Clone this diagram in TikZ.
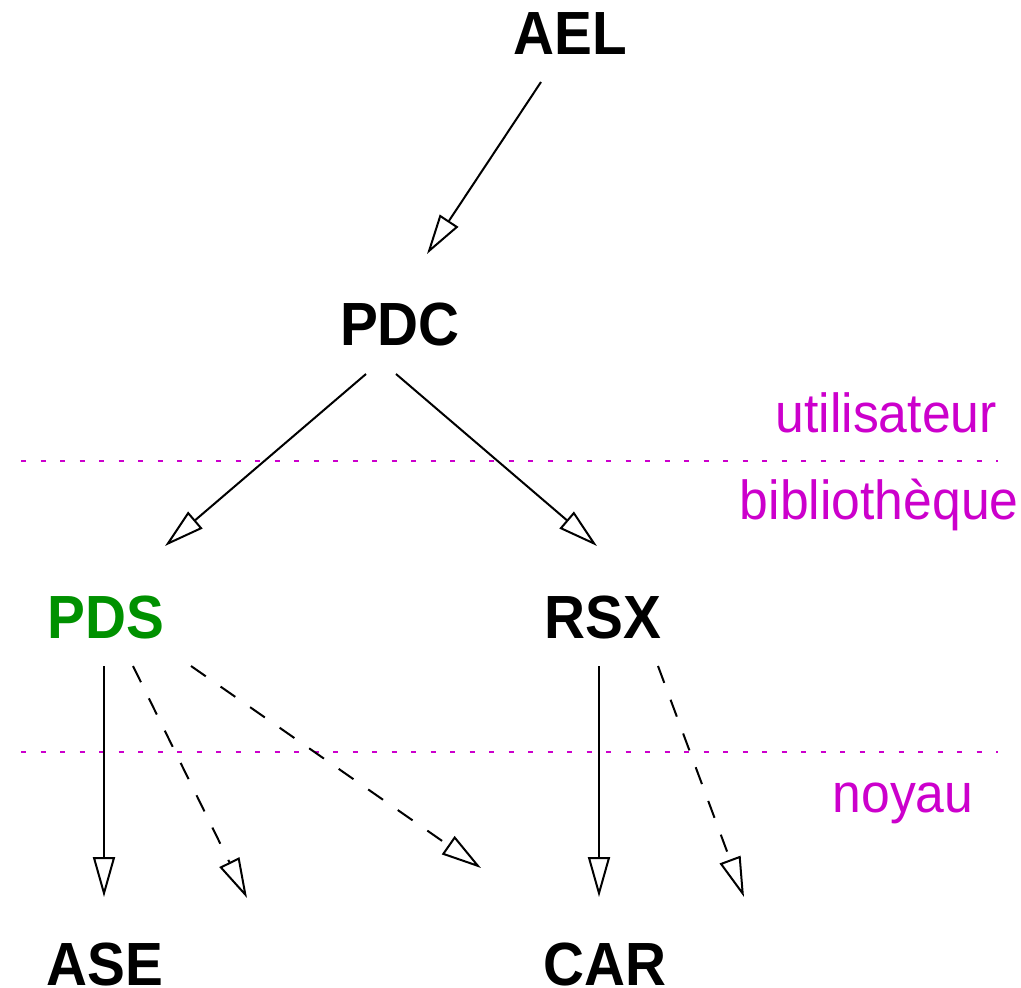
\documentclass[tikz,border=0pt]{standalone}
\usepackage{fontspec}
\setmainfont{Liberation Sans}
\newfontfamily\boldlab[FakeStretch=0.93]{Liberation Sans}
\newfontfamily\laylab[FakeStretch=0.94]{Liberation Sans}
\usetikzlibrary{arrows.meta,calc}
\definecolor{lay}{RGB}{204,0,204}
\definecolor{pdsgreen}{RGB}{0,145,0}
\tikzset{
  mod/.style={inner sep=0pt, anchor=base, font=\boldlab\bfseries\fontsize{61}{70}\selectfont},
  laytext/.style={inner sep=0pt, text=lay, font=\laylab\fontsize{55}{64}\selectfont},
  sep/.style={draw=lay, line width=2.8pt, dash pattern=on 5pt off 14.5pt},
  dep/.style={draw=black, line width=2pt, -{Triangle[open,length=40pt,width=22pt]}},
  weak/.style={dep, dash pattern=on 18pt off 18pt}
}
\begin{document}
\begin{tikzpicture}[x=1pt,y=-1pt]
\useasboundingbox (0,0) rectangle (1021,988);
\clip (0,0) rectangle (1021,988);
% modules
\node[mod] (AEL) at (570,54) {AEL};
\node[mod] (PDC) at (400,345) {PDC};
\node[mod, text=pdsgreen] (PDS) at (106,638) {PDS};
\node[mod] (RSX) at (603,638) {RSX};
\node[mod] (ASE) at (105,985) {ASE};
\node[mod] (CAR) at (605,985) {CAR};
% layer separators
\coordinate (s1a) at (21,461);
\coordinate (s1b) at (998,461);
\coordinate (s2a) at (21,752);
\coordinate (s2b) at (998,752);
\draw[sep] (s1a) -- (s1b);
\draw[sep] (s2a) -- (s2b);
% layer labels
\node[laytext, anchor=base east] (lu) at (997,432) {utilisateur};
\node[laytext, anchor=base east] (lb) at (1019,519) {bibliothèque};
\node[laytext, anchor=base] (ln) at (903,812) {noyau};
% dependencies
\draw[dep] ($(AEL.base)+(-29,28)$) -- ($(PDC.base)+(27,-91)$);
\draw[dep] ($(PDC.base)+(-34,29)$) -- ($(PDS.base)+(59,-92)$);
\draw[dep] ($(PDC.base)+(-4,29)$) -- ($(RSX.base)+(-6,-92)$);
\draw[dep] ($(PDS.base)+(-2,28)$) -- ($(ASE.base)+(-1,-88)$);
\draw[weak] ($(PDS.base)+(27,28)$) -- ($(ASE.base)+(142,-87)$);
\draw[weak] ($(PDS.base)+(85,28)$) -- ($(CAR.base)+(-124,-117)$);
\draw[dep] ($(RSX.base)+(-4,28)$) -- ($(CAR.base)+(-6,-88)$);
\draw[weak] ($(RSX.base)+(55,28)$) -- ($(CAR.base)+(139,-88)$);
\end{tikzpicture}
\end{document}
